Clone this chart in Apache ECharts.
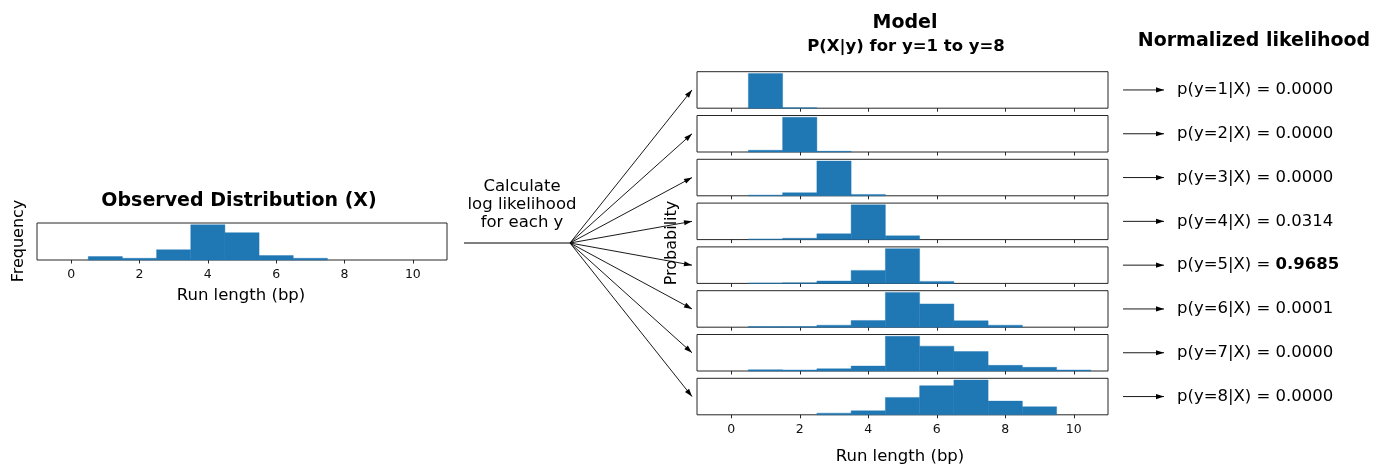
<!DOCTYPE html>
<html>
<head>
<meta charset="utf-8">
<script src="https://cdn.jsdelivr.net/npm/echarts@6/dist/echarts.min.js"></script>
<style>html,body{margin:0;padding:0;background:#fff}#c{width:1375px;height:467px}</style>
</head>
<body>
<div id="c"></div>
<script>
// ---------- data ----------
const runLengths = [0, 1, 2, 3, 4, 5, 6, 7, 8, 9, 10];
const tickValues = [0, 2, 4, 6, 8, 10];
const observedFreq = [0, 10, 5, 30, 103, 80, 13, 5, 0, 0, 0];
const modelY1 = [0, 0.990, 0.010, 0, 0, 0, 0, 0, 0, 0, 0];
const modelY2 = [0, 0.046, 0.935, 0.019, 0, 0, 0, 0, 0, 0, 0];
const modelY3 = [0, 0.017, 0.076, 0.874, 0.034, 0, 0, 0, 0, 0, 0];
const modelY4 = [0, 0.015, 0.029, 0.125, 0.750, 0.081, 0, 0, 0, 0, 0];
const modelY5 = [0, 0.006, 0.013, 0.044, 0.245, 0.654, 0.038, 0, 0, 0, 0];
const modelY6 = [0, 0.009, 0.009, 0.026, 0.088, 0.454, 0.304, 0.084, 0.026, 0, 0];
const modelY7 = [0, 0.013, 0.010, 0.023, 0.050, 0.351, 0.251, 0.197, 0.057, 0.037, 0.010];
const modelY8 = [0, 0, 0, 0.015, 0.037, 0.160, 0.268, 0.320, 0.126, 0.074, 0];
const models = [modelY1, modelY2, modelY3, modelY4, modelY5, modelY6, modelY7, modelY8];
const yLabels = ['1', '2', '3', '4', '5', '6', '7', '8'];
const posteriors = ['0.0000', '0.0000', '0.0000', '0.0314', '0.9685', '0.0001', '0.0000', '0.0000'];
const bestIndex = 4;

// ---------- layout ----------
const FONT = 'DejaVu Sans';
const BLUE = '#1f77b4';
const obsGrid = {left: 37, top: 223, width: 410, height: 37};
const modelLeft = 697, modelWidth = 411, modelTop0 = 71.7, modelStep = 43.8, modelH = 36.5;

function binsFrom(vals) {
  const out = [];
  runLengths.forEach((r, i) => { if (vals[i] > 0) out.push([r - 0.5, r + 0.5, vals[i]]); });
  return out;
}
function renderBin(params, api) {
  const p0 = api.coord([api.value(0), api.value(2)]);
  const p1 = api.coord([api.value(1), 0]);
  return {type: 'rect', shape: {x: p0[0], y: p0[1], width: p1[0] - p0[0], height: p1[1] - p0[1]},
          style: {fill: BLUE, stroke: BLUE, lineWidth: 0.4}};
}

const grids = [], xAxes = [], yAxes = [], series = [];
function addPanel(g, vals, showLabels) {
  const idx = grids.length;
  grids.push(Object.assign({show: true, borderColor: '#262626', borderWidth: 1, backgroundColor: 'transparent', containLabel: false}, g));
  xAxes.push({type: 'value', gridIndex: idx, min: -1, max: 11,
    axisLine: {show: false}, splitLine: {show: false},
    axisTick: {show: true, inside: false, length: 3.5, customValues: tickValues, lineStyle: {color: '#262626', width: 1}},
    axisLabel: {show: showLabels, customValues: tickValues, fontFamily: FONT, fontSize: 12.5, color: '#111', margin: 8}});
  yAxes.push({type: 'value', gridIndex: idx, min: 0, max: v => v.max * 1.05, show: false,
    splitLine: {show: false}});
  series.push({type: 'custom', xAxisIndex: idx, yAxisIndex: idx, renderItem: renderBin,
    encode: {x: [0, 1], y: 2}, data: binsFrom(vals), silent: true, z: 1});
}
addPanel(obsGrid, observedFreq, true);
models.forEach((m, i) => addPanel({left: modelLeft, width: modelWidth, top: modelTop0 + i * modelStep, height: modelH}, m, i === models.length - 1));

// ---------- annotations ----------
const graphic = [];
function text(x, y, t, size, bold, extra) {
  graphic.push(Object.assign({type: 'text', x: x, y: y, silent: true,
    style: {text: t, fontFamily: FONT, fontSize: size, fontWeight: bold ? 'bold' : 'normal', fill: '#000',
            align: 'center', verticalAlign: 'middle'}}, extra || {}));
}
function arrow(x1, y1, x2, y2) {
  graphic.push({type: 'line', silent: true, shape: {x1: x1, y1: y1, x2: x2, y2: y2}, style: {stroke: '#000', lineWidth: 0.9}});
  const a = Math.atan2(y2 - y1, x2 - x1), L = 8, W = 2.6;
  const bx = x2 - L * Math.cos(a), by = y2 - L * Math.sin(a);
  graphic.push({type: 'polygon', silent: true, shape: {points: [[x2, y2],
    [bx + W * Math.sin(a), by - W * Math.cos(a)], [bx - W * Math.sin(a), by + W * Math.cos(a)]]}, style: {fill: '#000'}});
}
text(239, 201, 'Observed Distribution (X)', 19, true);
text(19, 241, 'Frequency', 16, false, {rotation: Math.PI / 2});
text(241, 296, 'Run length (bp)', 16.5, false);
text(905, 23, 'Model', 19, true);
text(906, 47, 'P(X|y) for y=1 to y=8', 16.5, true);
text(1254, 41, 'Normalized likelihood', 19, true);
text(672, 243, 'Probability', 16, false, {rotation: Math.PI / 2});
text(900, 457, 'Run length (bp)', 16.5, false);
text(522, 187, 'Calculate', 16.5, false);
text(522, 205, 'log likelihood', 16.5, false);
text(522, 223, 'for each y', 16.5, false);

const ox = 570, oy = 243;
graphic.push({type: 'line', silent: true, shape: {x1: 464, y1: oy, x2: ox, y2: oy}, style: {stroke: '#000', lineWidth: 1}});
models.forEach((m, i) => {
  const cy = modelTop0 + i * modelStep + modelH / 2;
  arrow(ox, oy, modelLeft - 5, cy);
  arrow(1123, cy, 1164, cy);
  const lead = 'p(y=' + yLabels[i] + '|X) = ';
  const t = i === bestIndex ? '{n|' + lead + '}{b|' + posteriors[i] + '}' : '{n|' + lead + posteriors[i] + '}';
  graphic.push({type: 'text', x: 1177, y: cy, silent: true,
    style: {text: t, align: 'left', verticalAlign: 'middle', fill: '#000',
      rich: {n: {fontFamily: FONT, fontSize: 16.5, fill: '#000'},
             b: {fontFamily: FONT, fontSize: 16.5, fontWeight: 'bold', fill: '#000'}}}});
});

const chart = echarts.init(document.getElementById('c'), null, {renderer: 'canvas'});
chart.setOption({animation: false, backgroundColor: '#fff', grid: grids, xAxis: xAxes, yAxis: yAxes, series: series, graphic: graphic});
</script>
</body>
</html>
